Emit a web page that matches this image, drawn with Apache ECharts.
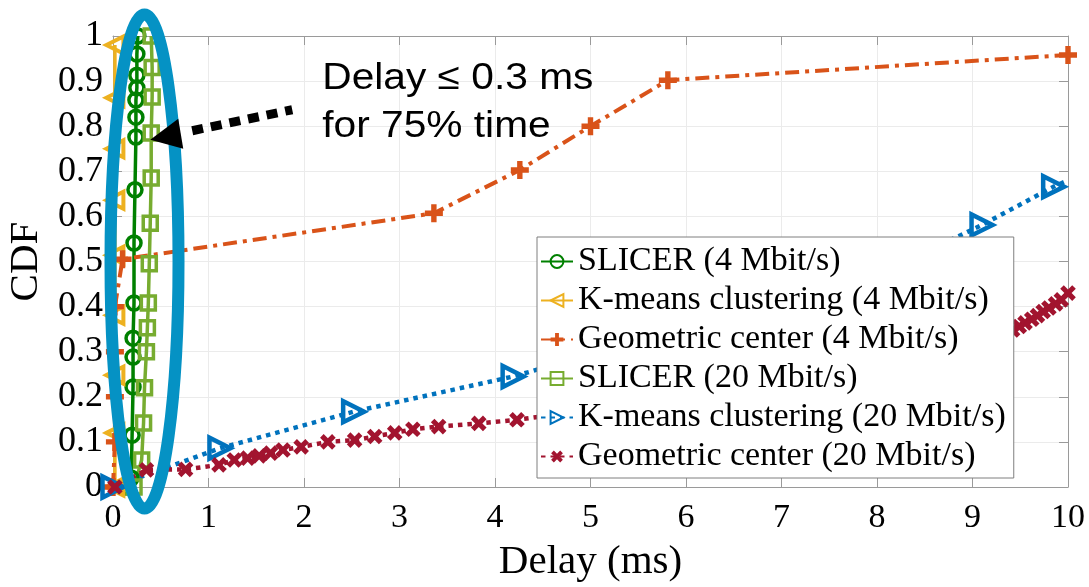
<!DOCTYPE html>
<html>
<head>
<meta charset="utf-8">
<script src="https://cdn.jsdelivr.net/npm/echarts@6/dist/echarts.min.js"></script>
<style>
html,body{margin:0;padding:0;background:#fff;}
#chart{width:1089px;height:587px;}
</style>
</head>
<body>
<div id="chart"></div>
<script>
// ---- Data (Delay in ms, CDF) ----
const seriesNames = [
  'SLICER (4 Mbit/s)',
  'K-means clustering (4 Mbit/s)',
  'Geometric center (4 Mbit/s)',
  'SLICER (20 Mbit/s)',
  'K-means clustering (20 Mbit/s)',
  'Geometric center (20 Mbit/s)'
];
const slicer4 = [[0.12,0],[0.19,0.02],[0.2,0.115],[0.21,0.222],[0.21,0.288],[0.21,0.33],[0.22,0.408],[0.22,0.541],[0.23,0.659],[0.24,0.776],[0.24,0.82],[0.24,0.858],[0.25,0.885],[0.25,0.913],[0.25,0.96],[0.26,1.0]];
const kmeans4 = [[0.02,0],[0.02,0.12],[0.02,0.248],[0.02,0.381],[0.02,0.514],[0.02,0.636],[0.02,0.75],[0.02,0.863],[0.02,0.98]];
const geo4 = [[0,0],[0.02,0.1],[0.02,0.2],[0.02,0.3],[0.02,0.4],[0.1,0.505],[3.36,0.607],[4.26,0.703],[5.0,0.8],[5.81,0.902],[10,0.958]];
const slicer20 = [[0.22,0],[0.3,0.06],[0.32,0.142],[0.33,0.22],[0.35,0.3],[0.36,0.353],[0.37,0.408],[0.38,0.495],[0.39,0.585],[0.4,0.685],[0.4,0.785],[0.41,0.865],[0.41,0.93],[0.4,1.0]];
const kmeans20 = [[0,0],[1.12,0.086],[2.52,0.167],[4.19,0.245],[5.6,0.33],[7.0,0.41],[8.2,0.49],[9.1,0.581],[9.85,0.666],[10,0.68]];
const geo20 = [[0.02,0.0],[0.35,0.038],[0.76,0.039],[1.11,0.049],[1.27,0.06],[1.41,0.064],[1.53,0.069],[1.65,0.075],[1.78,0.082],[1.97,0.089],[2.25,0.1],[2.53,0.104],[2.74,0.112],[2.95,0.12],[3.14,0.128],[3.41,0.134],[3.83,0.141],[4.23,0.149],[6.0,0.2],[8.0,0.27],[9.42,0.348],[9.49,0.356],[9.55,0.364],[9.62,0.372],[9.68,0.38],[9.74,0.389],[9.8,0.397],[9.87,0.406],[9.93,0.415],[10,0.43]];
const xTicks = [0,1,2,3,4,5,6,7,8,9,10];
const yTicks = [0,0.1,0.2,0.3,0.4,0.5,0.6,0.7,0.8,0.9,1];
const annotationLines = ['Delay \u2264 0.3 ms', 'for 75% time'];

// ---- Styles ----
const colors = ['#008000','#EDB120','#D95319','#77AC30','#0072BD','#A2142F'];
const plusPath = 'path://M35,0H65V35H100V65H65V100H35V65H0V35H35Z';
const serif = '"Liberation Serif","Times New Roman",Times,serif';
const hollow = (c,w) => ({color:'rgba(0,0,0,0)', borderColor:c, borderWidth:w});

function lastNoSymbol(arr){
  return arr.map((p,i)=> i===arr.length-1 ? {value:p, symbol:'none'} : p);
}

const series = [
  {name:seriesNames[0], data:slicer4, symbol:'circle', symbolSize:14,
   lineStyle:{color:colors[0], width:3.5, type:'solid'}, itemStyle:hollow(colors[0],3.5)},
  {name:seriesNames[1], data:kmeans4, symbol:'triangle', symbolRotate:90, symbolSize:17,
   lineStyle:{color:colors[1], width:3.5, type:'solid'}, itemStyle:hollow(colors[1],4)},
  {name:seriesNames[2], data:geo4, symbol:plusPath, symbolSize:18,
   lineStyle:{color:colors[2], width:4, type:[14,6,4,6]}, itemStyle:{color:colors[2]}},
  {name:seriesNames[3], data:slicer20, symbol:'rect', symbolSize:14,
   lineStyle:{color:colors[3], width:3.5, type:'solid'}, itemStyle:hollow(colors[3],3.5)},
  {name:seriesNames[4], data:lastNoSymbol(kmeans20), symbol:'triangle', symbolRotate:-90, symbolSize:21,
   lineStyle:{color:colors[4], width:4.5, type:[4.5,5]}, itemStyle:hollow(colors[4],4.5)},
  {name:seriesNames[5], data:geo20, symbol:plusPath, symbolRotate:45, symbolSize:17,
   lineStyle:{color:colors[5], width:4.5, type:[4.5,5]}, itemStyle:{color:colors[5]}}
].map(s => Object.assign({type:'line', clip:false, animation:false, showSymbol:true, emphasis:{disabled:true}, xAxisIndex:0, yAxisIndex:0}, s));

const axisGray = '#9a9a9a';
const option = {
  animation:false,
  backgroundColor:'#fff',
  grid:{left:113, right:21, top:36, bottom:100, containLabel:false, outerBoundsMode:'none'},
  xAxis:[
    {type:'value', min:xTicks[0], max:xTicks[xTicks.length-1], interval:1, position:'bottom',
     name:'Delay (ms)', nameLocation:'middle', nameGap:55,
     nameTextStyle:{fontFamily:serif, fontSize:41, color:'#000'},
     axisLine:{show:true, onZero:false, lineStyle:{color:axisGray, width:1}},
     axisTick:{show:true, inside:true, length:9, lineStyle:{color:axisGray}},
     axisLabel:{show:true, fontFamily:serif, fontSize:34, color:'#000', margin:14},
     splitLine:{show:true, lineStyle:{color:'#ebebeb', width:1}}},
    {type:'value', min:xTicks[0], max:xTicks[xTicks.length-1], interval:1, position:'top',
     axisLine:{show:true, onZero:false, lineStyle:{color:axisGray, width:1}},
     axisTick:{show:true, inside:true, length:9, lineStyle:{color:axisGray}},
     axisLabel:{show:false}, splitLine:{show:false}}
  ],
  yAxis:[
    {type:'value', min:yTicks[0], max:yTicks[yTicks.length-1], interval:0.1, position:'left',
     name:'CDF', nameLocation:'middle', nameGap:63, nameRotate:90,
     nameTextStyle:{fontFamily:serif, fontSize:41, color:'#000'},
     axisLine:{show:true, onZero:false, lineStyle:{color:axisGray, width:1}},
     axisTick:{show:true, inside:true, length:9, lineStyle:{color:axisGray}},
     axisLabel:{show:true, fontFamily:serif, fontSize:36, color:'#000', margin:10,
       formatter: v => (Math.abs(v-Math.round(v))<1e-9 ? String(Math.round(v)) : v.toFixed(1))},
     splitLine:{show:true, lineStyle:{color:'#ebebeb', width:1}}},
    {type:'value', min:yTicks[0], max:yTicks[yTicks.length-1], interval:0.1, position:'right',
     axisLine:{show:true, onZero:false, lineStyle:{color:axisGray, width:1}},
     axisTick:{show:true, inside:true, length:9, lineStyle:{color:axisGray}},
     axisLabel:{show:false}, splitLine:{show:false}}
  ],
  legend:{
    show:true, orient:'vertical', left:537, top:237,
    padding:[5,8,2,3], itemGap:0, itemWidth:32, itemHeight:16,
    backgroundColor:'#fff', borderColor:'#7f7f7f', borderWidth:1,
    textStyle:{fontFamily:serif, fontSize:34, color:'#000', lineHeight:39},
    data:seriesNames, selectedMode:false
  },
  series:series
};

const chart = echarts.init(document.getElementById('chart'), null, {renderer:'canvas'});
chart.setOption(option);

// ---- Annotation (ellipse, arrow, text) anchored to data coords ----
const c = chart.convertToPixel({gridIndex:0}, [0.33, 0.5]);
const tip = chart.convertToPixel({gridIndex:0}, [0.39, 0.77]);
const tx = tip[0], ty = tip[1];
chart.setOption({
  graphic:[
    {type:'ellipse', z:100, shape:{cx:c[0], cy:c[1], rx:34, ry:247},
     style:{fill:'none', stroke:'#0592C4', lineWidth:12}},
    {type:'line', z:101, shape:{x1:tx+42, y1:ty-9, x2:tx+142, y2:ty-30},
     style:{stroke:'#000', lineWidth:9, lineDash:[11,8], lineCap:'butt'}},
    {type:'polygon', z:101, shape:{points:[[tx,ty],[tx+28,ty-21],[tx+33,ty+9]]},
     style:{fill:'#000'}},
    {type:'text', z:101, x:tx+172, y:ty-61, scaleX:1.1,
     style:{text:annotationLines[0], font:'37px "Liberation Sans", Arial, sans-serif', fill:'#000', verticalAlign:'middle', align:'left'}},
    {type:'text', z:101, x:tx+172, y:ty-13, scaleX:1.1,
     style:{text:annotationLines[1], font:'37px "Liberation Sans", Arial, sans-serif', fill:'#000', verticalAlign:'middle', align:'left'}}
  ]
});
</script>
</body>
</html>
